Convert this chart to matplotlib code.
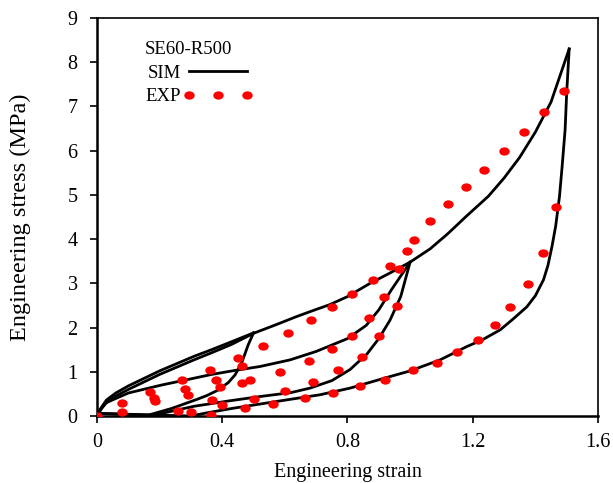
import matplotlib
matplotlib.use('Agg')
import matplotlib.pyplot as plt
from matplotlib.path import Path
from matplotlib.transforms import Affine2D

plt.rcParams['font.family'] = ['Liberation Serif', 'DejaVu Serif']
plt.rcParams['font.size'] = 13

# simulated curves (strain, stress in MPa)
sim_load1_x = [0, 0.015, 0.03, 0.06, 0.10, 0.153, 0.20, 0.26, 0.31, 0.366, 0.43, 0.50]
sim_load1_y = [0, 0.20, 0.36, 0.52, 0.68, 0.86, 1.02, 1.20, 1.35, 1.50, 1.68, 1.88]

sim_unload1_x = [0.50, 0.483, 0.462, 0.441, 0.42, 0.388, 0.35, 0.313, 0.238, 0.164, 0.08, 0.0]
sim_unload1_y = [1.88, 1.61, 1.20, 0.93, 0.76, 0.59, 0.46, 0.36, 0.17, 0.02, 0.04, 0.06]

sim_load2_x = [0, 0.015, 0.03, 0.06, 0.10, 0.153, 0.20, 0.26, 0.31, 0.366, 0.43, 0.50,
               0.57, 0.638, 0.70, 0.744, 0.80, 0.872, 0.94, 1.0]
sim_load2_y = [0, 0.17, 0.30, 0.45, 0.60, 0.78, 0.94, 1.12, 1.27, 1.43, 1.62, 1.87,
               2.06, 2.25, 2.41, 2.52, 2.70, 3.00, 3.25, 3.48]

sim_unload2_x = [1.0, 0.97, 0.936, 0.90, 0.862, 0.808, 0.75, 0.68, 0.62, 0.52, 0.42, 0.31, 0.22, 0.165]
sim_unload2_y = [3.48, 2.70, 2.17, 1.75, 1.40, 1.05, 0.80, 0.63, 0.53, 0.44, 0.34, 0.22, 0.08, 0.0]

sim_load3_x = [0, 0.01, 0.026, 0.10, 0.206, 0.30, 0.366, 0.44, 0.521, 0.617, 0.70, 0.80,
               0.86, 0.90, 0.94, 1.0, 1.064, 1.12, 1.18, 1.25, 1.30, 1.35, 1.40, 1.45, 1.508]
sim_load3_y = [0, 0.15, 0.29, 0.52, 0.70, 0.84, 0.94, 1.03, 1.12, 1.27, 1.46, 1.75,
               2.05, 2.40, 2.85, 3.48, 3.78, 4.12, 4.52, 4.97, 5.38, 5.85, 6.42, 7.10, 8.30]

sim_unload3_x = [1.508, 1.50, 1.495, 1.485, 1.477, 1.465, 1.453, 1.44, 1.426, 1.40, 1.373,
                 1.33, 1.288, 1.23, 1.181, 1.096, 1.0, 0.915, 0.808, 0.712, 0.62, 0.52,
                 0.43, 0.35, 0.30, 0.15, 0.0]
sim_unload3_y = [8.30, 7.30, 6.47, 5.60, 4.96, 4.30, 3.83, 3.40, 3.08, 2.72, 2.47,
                 2.20, 1.95, 1.72, 1.57, 1.27, 1.02, 0.85, 0.63, 0.48, 0.38, 0.27,
                 0.17, 0.07, 0.0, 0.03, 0.06]

# experimental points, one list per cycle
exp1_x = [0, 0.08, 0.17, 0.271, 0.361, 0.451, 0.464, 0.368, 0.26]
exp1_y = [0, 0.30, 0.54, 0.81, 1.05, 1.31, 0.75, 0.37, 0.12]

exp2_x = [0.08, 0.183, 0.281, 0.38, 0.462, 0.53, 0.611, 0.684, 0.752, 0.815, 0.883, 0.936,
          0.989, 0.957, 0.902, 0.845, 0.771, 0.691, 0.60, 0.50, 0.40, 0.30]
exp2_y = [0.10, 0.40, 0.60, 0.81, 1.13, 1.58, 1.88, 2.16, 2.46, 2.77, 3.08, 3.40,
          3.74, 2.48, 1.82, 1.33, 1.04, 0.78, 0.57, 0.38, 0.24, 0.08]

exp3_x = [0.185, 0.29, 0.393, 0.489, 0.585, 0.676, 0.751, 0.814, 0.868, 0.916, 0.965,
          1.011, 1.063, 1.122, 1.179, 1.237, 1.299, 1.363, 1.427, 1.492,
          1.465, 1.423, 1.378, 1.32, 1.27, 1.218, 1.151, 1.087, 1.009, 0.921,
          0.839, 0.755, 0.665, 0.563, 0.473, 0.364]
exp3_y = [0.34, 0.48, 0.65, 0.81, 1.00, 1.25, 1.52, 1.82, 2.22, 2.70, 3.33,
          3.99, 4.41, 4.79, 5.18, 5.57, 5.99, 6.42, 6.88, 7.34,
          4.72, 3.69, 2.99, 2.47, 2.05, 1.73, 1.45, 1.21, 1.03, 0.82,
          0.67, 0.52, 0.40, 0.27, 0.17, 0.03]

xticks = [0, 0.4, 0.8, 1.2, 1.6]
xtick_labels = ['0', '0.4', '0.8', '1.2', '1.6']
yticks = list(range(10))

fig = plt.figure(figsize=(6.13, 4.83), dpi=100)
ax = fig.add_axes([0.1582, 0.1387, 0.8173, 0.824])

sim_curves = [(sim_load1_x, sim_load1_y), (sim_unload1_x, sim_unload1_y),
              (sim_load2_x, sim_load2_y), (sim_unload2_x, sim_unload2_y),
              (sim_load3_x, sim_load3_y), (sim_unload3_x, sim_unload3_y)]
for i, (xs, ys) in enumerate(sim_curves):
    ax.plot(xs, ys, color='black', lw=2.0, solid_joinstyle='round',
            label='SIM' if i == 0 else None, zorder=2)

dot = Path.unit_circle().transformed(Affine2D().scale(1.0, 0.8))
for i, (xs, ys) in enumerate([(exp1_x, exp1_y), (exp2_x, exp2_y), (exp3_x, exp3_y)]):
    ax.plot(xs, ys, ls='none', marker=dot, ms=7.5, color='#ff0000', mec='none',
            label='EXP' if i == 0 else None, zorder=3)

ax.set_xlim(0, 1.6)
ax.set_ylim(0, 9)
ax.set_xticks(xticks)
ax.set_xticklabels(xtick_labels)
ax.set_yticks(yticks)
ax.tick_params(direction='out', length=5, width=1.2, labelsize=14.5)
ax.tick_params(axis='y', pad=9)
ax.tick_params(axis='x', pad=7)
for side in ['left', 'bottom']:
    ax.spines[side].set_linewidth(1.8)
for side in ['top', 'right']:
    ax.spines[side].set_linewidth(1.2)

ax.set_xlabel('Engineering strain', fontsize=14.5, labelpad=8)
ax.set_ylabel('Engineering stress (MPa)', fontsize=17.5, labelpad=26)

leg = ax.legend(title='SE60-R500', loc='upper left', bbox_to_anchor=(0.07, 0.975),
                frameon=False, markerfirst=False, numpoints=3, handlelength=3.7,
                handletextpad=0.15, labelspacing=0.35, fontsize=13.5, title_fontsize=13.5,
                alignment='left', borderaxespad=0.3)

fig.savefig('out.png', dpi=100)
